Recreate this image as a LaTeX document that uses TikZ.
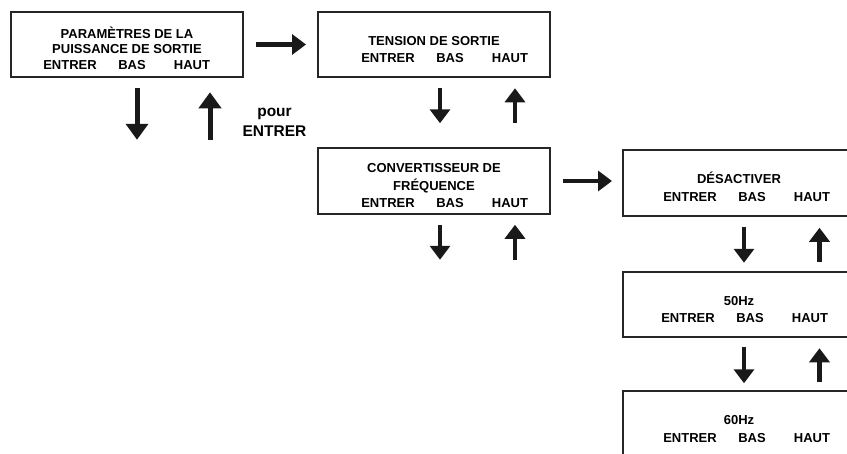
\documentclass[tikz,border=0pt]{standalone}
\usepackage{fontspec}
\setmainfont{Liberation Sans}
\usepackage{tikz}
\usetikzlibrary{positioning,arrows.meta}
\tikzstyle{menu}=[rectangle, draw=black!85, line width=2.4pt, minimum width=232pt, minimum height=65.5pt,
        outer sep=0pt, inner sep=0pt, align=center, font=\fontsize{13}{17.5}\selectfont\bfseries]
\tikzstyle{fatarrow}=[-{Triangle[width=20pt,length=14pt]}, line width=4.6pt, black!90]
\tikzstyle{longarrow}=[-{Triangle[width=22pt,length=16pt]}, line width=5pt, black!90]
\newcommand{\haut}{\rule{0pt}{19pt}}
\newcommand{\touches}[1]{\makebox[0pt][l]{\hspace*{-62pt}\hspace*{#1}\makebox[0pt]{ENTRER}\hspace*{62pt}\makebox[0pt]{BAS}\hspace*{60pt}\makebox[0pt]{HAUT}}}

\begin{document}
\begin{tikzpicture}[x=1pt,y=-1pt]
	\useasboundingbox (0,0) rectangle (847,453);
	\clip (0,0) rectangle (847,453);

	\node (params) [menu, font=\fontsize{13}{15.7}\selectfont\bfseries] at (127,44.5)
        {
            \haut PARAMÈTRES DE LA\\PUISSANCE DE SORTIE\\\touches{5pt}
        };
	\node (tension) [menu, right=75pt of params]
        {
            \haut TENSION DE SORTIE\\\touches{16pt}
        };
	\node (convert) [menu, below=71pt of tension]
        {
            \haut CONVERTISSEUR DE\\FRÉQUENCE\\\touches{16pt}
        };
	\node (desact) [menu, right=73pt of convert, yshift=-2pt]
        {
            \haut DÉSACTIVER\\\touches{13pt}
        };
	\node (freqA) [menu, below=56pt of desact]
        {
            \haut 50Hz\\\touches{11pt}
        };
	\node (freqB) [menu, below=54pt of freqA]
        {
            \haut 60Hz\\\touches{13pt}
        };

	\node (pour) [align=center, font=\fontsize{15.5}{20}\selectfont\bfseries] at (274.5,122.5) {pour\\ENTRER};

\draw[fatarrow, shorten <=13pt, shorten >=12pt] (params) -- (tension);
\draw[fatarrow, shorten <=13pt, shorten >=11pt] (convert.east) -- (convert.east -| desact.west);

\draw[longarrow] ([xshift=10pt]params.south) ++(0,10.5) -- ++(0,52);
\draw[longarrow] ([xshift=83pt]params.south) ++(0,63) -- ++(0,-48);

\draw[fatarrow, shorten <=11pt, shorten >=25pt] ([xshift=6pt]tension.south) -- ([xshift=6pt]convert.north);
\draw[fatarrow, shorten <=25pt, shorten >=11pt] ([xshift=81pt]convert.north) -- ([xshift=81pt]tension.south);

\draw[fatarrow] ([xshift=6pt]convert.south) ++(0,11) -- ++(0,35);
\draw[fatarrow] ([xshift=81pt]convert.south) ++(0,46) -- ++(0,-35);

\draw[fatarrow, shorten <=11pt, shorten >=9pt] ([xshift=5pt]desact.south) -- ([xshift=5pt]freqA.north);
\draw[fatarrow, shorten <=10pt, shorten >=12pt] ([xshift=80.5pt]freqA.north) -- ([xshift=80.5pt]desact.south);

\draw[fatarrow, shorten <=10pt, shorten >=8pt] ([xshift=5pt]freqA.south) -- ([xshift=5pt]freqB.north);
\draw[fatarrow, shorten <=9pt, shorten >=11pt] ([xshift=80.5pt]freqB.north) -- ([xshift=80.5pt]freqA.south);
\end{tikzpicture}
\end{document}
